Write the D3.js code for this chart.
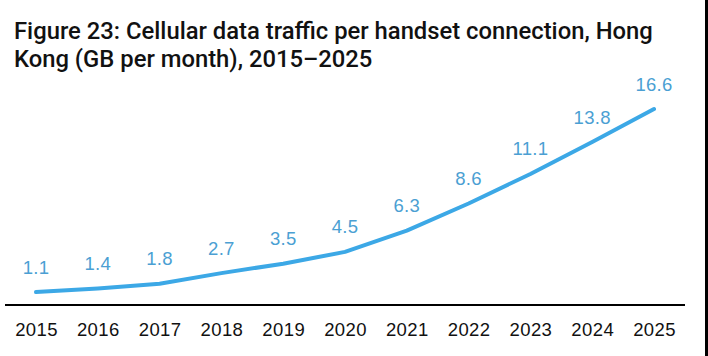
<!DOCTYPE html>
<html>
<head>
<meta charset="utf-8">
<script src="https://cdn.jsdelivr.net/npm/d3@7"></script>
<style>
  html, body { margin: 0; padding: 0; background: #fff; }
  svg { display: block; }
</style>
</head>
<body>
<svg id="chart" width="708" height="356"></svg>
<script>
const titleLines = ["Figure 23: Cellular data traffic per handset connection, Hong", "Kong (GB per month), 2015\u20132025"];
const years = ["2015","2016","2017","2018","2019","2020","2021","2022","2023","2024","2025"];
const values = [1.1, 1.4, 1.8, 2.7, 3.5, 4.5, 6.3, 8.6, 11.1, 13.8, 16.6];
const valueLabels = ["1.1","1.4","1.8","2.7","3.5","4.5","6.3","8.6","11.1","13.8","16.6"];

const svg = d3.select("#chart");
const W = 708, H = 356;

svg.append("rect").attr("width", W).attr("height", H).attr("fill", "#fff");

// title
const title = svg.append("text")
  .attr("x", 14)
  .attr("font-family", "Roboto, 'Liberation Sans', sans-serif")
  .attr("font-weight", 500)
  .attr("font-size", 23.8)
  .attr("fill", "#111");
titleLines.forEach((t, i) => {
  title.append("tspan").attr("x", 14).attr("y", 39 + i * 28).text(t);
});

const x = d3.scalePoint().domain(years).range([36, 654]);
const y = d3.scaleLinear().domain([0, 16.6]).range([305, 109]);

// axis
const xAxis = d3.axisBottom(x).tickSize(0).tickPadding(18);
const gx = svg.append("g").attr("transform", `translate(0,${y(0)})`).call(xAxis);
gx.select(".domain").remove();
gx.append("line").attr("x1", 5).attr("x2", 685).attr("y1", 0).attr("y2", 0)
  .attr("stroke", "#000").attr("stroke-width", 2);
gx.selectAll(".tick text")
  .attr("font-family", "'Liberation Sans', Arial, sans-serif")
  .attr("font-size", 18.5)
  .attr("letter-spacing", 0.4)
  .attr("fill", "#111")
  .attr("dy", "0.71em")
  .attr("y", 18);

// line
const line = d3.line()
  .x((d, i) => x(years[i]))
  .y(d => y(d))
  .curve(d3.curveLinear);
svg.append("path")
  .datum(values)
  .attr("d", line)
  .attr("fill", "none")
  .attr("stroke", "#3ca8e6")
  .attr("stroke-width", 4)
  .attr("stroke-linecap", "round")
  .attr("stroke-linejoin", "round");

// value labels
svg.append("g").selectAll("text")
  .data(values)
  .join("text")
  .attr("x", (d, i) => x(years[i]))
  .attr("y", d => y(d) - 18.5)
  .attr("text-anchor", "middle")
  .attr("font-family", "'Liberation Sans', Arial, sans-serif")
  .attr("font-size", 18.5)
  .attr("letter-spacing", 0.3)
  .attr("fill", "#4b9fd3")
  .text((d, i) => valueLabels[i]);

// right edge border
svg.append("rect").attr("x", 705).attr("y", 0).attr("width", 3).attr("height", H).attr("fill", "#000");
</script>
</body>
</html>
